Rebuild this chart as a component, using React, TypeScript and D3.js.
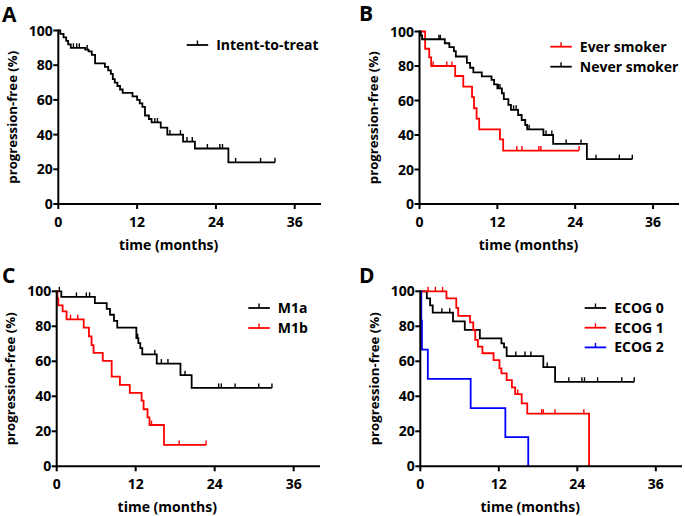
import React from 'react';
import * as d3 from 'd3';

const monthTicks = [0, 12, 24, 36];
const pctTicks = [0, 20, 40, 60, 80, 100];
const xTitle = 'time (months)';
const yTitle = 'progression-free (%)';

// Panel A: intent-to-treat
const aItt: [number, number][] = [[0.3,98],[0.8,96],[1.2,94],[1.5,92],[1.9,90],[4.1,89],[4.6,88],[5.1,86],[5.6,81],[7.1,79],[7.6,77],[8.0,75],[8.3,72],[8.6,70],[9.0,68],[9.4,66],[9.8,64],[11.3,62],[12.0,60],[12.4,58],[12.8,56],[13.2,51],[13.8,49],[14.2,47],[15.6,44],[16.6,40],[19.0,36],[20.8,32],[25.9,24]];
const aIttCensor = [2.3,2.8,3.2,4.4,14.7,15.1,17.0,18.6,19.6,20.4,22.7,24.6,25.0,27.0,30.8,33.0];

// Panel B: smoking
const bEver: [number, number][] = [[0.87,90],[1.5,85],[1.8,80],[5.5,74.2],[6.75,68],[8.1,62],[8.4,55.5],[8.8,49.5],[9.2,43.3],[12.4,37.5],[12.9,31]];
const bEverCensor = [2.1,4.2,5.0,15.0,15.8,18.4,18.7,24.6];
const bNever: [number, number][] = [[0.2,97.7],[0.4,95.5],[3.9,93.2],[4.6,90.9],[5.3,88.6],[5.6,85.5],[7.3,81.8],[7.8,79],[8.3,76.3],[9.6,74],[11.1,71.9],[11.5,69.3],[12.0,67],[12.7,64.2],[13.0,60.8],[13.7,57.5],[14.1,54.6],[15.2,51.6],[15.75,48.7],[16.3,45.8],[16.6,43.3],[19.1,40],[20.6,34.8],[25.8,26]];
const bNeverCensor = [3.0,3.2,12.15,12.4,14.5,14.9,16.9,19.5,20.4,22.6,24.9,27.2,30.8,32.8];

// Panel C: M stage
const cM1a: [number, number][] = [[0.7,96.8],[5.8,93.3],[7.6,90],[8.1,86.6],[8.7,83.1],[9.2,79.2],[12.1,73.2],[12.4,70.4],[12.7,67.5],[13.0,64],[15.2,58.7],[18.8,52.1],[20.5,44.8]];
const cM1aCensor = [0.4,3.0,4.5,5.0,12.3,14.9,15.9,16.9,19.5,24.6,25.0,27.1,30.7,32.7];
const cM1b: [number, number][] = [[0.1,96],[0.25,92],[0.9,88.5],[1.5,84],[4.1,79.2],[4.9,74.2],[5.3,69.2],[5.6,64.8],[7.0,60.3],[8.35,51.2],[9.6,46.5],[11.1,42],[12.9,37.5],[13.2,32.6],[13.8,28],[14.1,23.6],[16.3,12.2]];
const cM1bCensor = [2.1,3.2,14.4,18.6,22.7];

// Panel D: ECOG
const dEcog0: [number, number][] = [[1.0,96],[1.5,92],[1.9,87.8],[5.0,82.8],[6.8,78],[9.1,73.1],[12.4,70.3],[12.8,68],[13.2,63],[18.8,56.7],[20.6,48.3]];
const dEcog0Censor = [3.3,4.5,14.6,16.0,16.9,19.4,22.7,24.7,25.1,27.1,30.8,32.7];
const dEcog1: [number, number][] = [[4.0,96],[5.5,90.5],[5.8,86],[7.6,82.2],[8.1,77.8],[8.4,72.2],[8.8,68.4],[9.5,64.6],[11.2,60.7],[12.1,56],[12.4,53.1],[13.2,49.3],[14.0,45.1],[14.5,41.3],[15.5,36],[16.35,30.1],[25.8,0]];
const dEcog1Censor = [1.2,2.3,3.4,14.9,18.55,18.8,20.6,25.0];
const dEcog2: [number, number][] = [[0.15,83.3],[0.25,66.7],[1.15,50],[7.7,33.3],[13.0,16.7],[16.5,0]];
const dEcog2Censor: number[] = [];

const FONT = '"Open Sans", "Noto Sans", sans-serif';

type Series = { name: string; color: string; steps: [number, number][]; censor: number[] };
type Panel = {
  letter: string; lx: number; ly: number;
  x0: number; x1: number; yTop: number; yBot: number;
  series: Series[];
  legX: number; legY: number; legGap: number;
};

const panels: Panel[] = [
  { letter: 'A', lx: 2, ly: 21.5, x0: 58.3, x1: 321, yTop: 30.5, yBot: 204,
    series: [{ name: 'Intent-to-treat', color: '#000', steps: aItt, censor: aIttCensor }],
    legX: 186.7, legY: 45, legGap: 20 },
  { letter: 'B', lx: 359, ly: 21, x0: 419.5, x1: 679, yTop: 31.5, yBot: 204,
    series: [
      { name: 'Ever smoker', color: '#ff0000', steps: bEver, censor: bEverCensor },
      { name: 'Never smoker', color: '#000', steps: bNever, censor: bNeverCensor },
    ],
    legX: 550.3, legY: 46.7, legGap: 20 },
  { letter: 'C', lx: 2, ly: 283, x0: 56.7, x1: 320, yTop: 291.3, yBot: 466.3,
    series: [
      { name: 'M1a', color: '#000', steps: cM1a, censor: cM1aCensor },
      { name: 'M1b', color: '#ff0000', steps: cM1b, censor: cM1bCensor },
    ],
    legX: 248.3, legY: 308, legGap: 20 },
  { letter: 'D', lx: 359, ly: 283, x0: 420.3, x1: 682, yTop: 291.3, yBot: 466.3,
    series: [
      { name: 'ECOG 0', color: '#000', steps: dEcog0, censor: dEcog0Censor },
      { name: 'ECOG 1', color: '#ff0000', steps: dEcog1, censor: dEcog1Censor },
      { name: 'ECOG 2', color: '#0000ff', steps: dEcog2, censor: dEcog2Censor },
    ],
    legX: 584.7, legY: 308, legGap: 19.7 },
];

function levelAt(steps: [number, number][], t: number) {
  let lv = 100;
  for (const [st, l] of steps) { if (st <= t) lv = l; else break; }
  return lv;
}

function PanelView({ p }: { p: Panel }) {
  const x = d3.scaleLinear().domain([0, 40]).range([p.x0, p.x1]);
  const y = d3.scaleLinear().domain([0, 100]).range([p.yBot, p.yTop]);
  const line = d3.line<[number, number]>().x(d => x(d[0])).y(d => y(d[1])).curve(d3.curveStepAfter);
  const cy = (p.yTop + p.yBot) / 2;
  return (
    <g>
      <text x={p.lx} y={p.ly} fontSize={21} fontWeight="bold" fontFamily={FONT}>{p.letter}</text>
      {p.series.map((s, i) => {
        const last = s.steps[s.steps.length - 1];
        const endT = Math.max(last ? last[0] : 0, ...(s.censor.length ? s.censor : [0]));
        const pts: [number, number][] = [[0, 100], ...s.steps];
        if (endT > (last ? last[0] : 0)) pts.push([endT, last ? last[1] : 100]);
        return (
          <g key={i}>
            <path d={line(pts) || ''} fill="none" stroke={s.color} strokeWidth={1.8} />
            {s.censor.map((t, j) => {
              const l = levelAt(s.steps, t);
              return <line key={j} x1={x(t)} x2={x(t)} y1={y(l)} y2={y(l) - 4.5} stroke={s.color} strokeWidth={1.4} />;
            })}
          </g>
        );
      })}
      <line x1={p.x0} x2={p.x1} y1={p.yBot} y2={p.yBot} stroke="#000" strokeWidth={2} />
      <line x1={p.x0} x2={p.x0} y1={p.yTop - 1} y2={p.yBot + 1} stroke="#000" strokeWidth={2} />
      {monthTicks.map(t => (
        <g key={'x' + t}>
          <line x1={x(t)} x2={x(t)} y1={p.yBot} y2={p.yBot + 5} stroke="#000" strokeWidth={2} />
          <text x={x(t)} y={p.yBot + 22.5} textAnchor="middle" fontSize={14} fontWeight="bold" fontFamily={FONT}>{t}</text>
        </g>
      ))}
      {pctTicks.map(v => (
        <g key={'y' + v}>
          <line x1={p.x0 - 5} x2={p.x0} y1={y(v)} y2={y(v)} stroke="#000" strokeWidth={2} />
          <text x={p.x0 - 5.5} y={y(v)} dy="0.36em" textAnchor="end" fontSize={14} fontWeight="bold" fontFamily={FONT}>{v}</text>
        </g>
      ))}
      <text x={x(16.8)} y={p.yBot + 46} textAnchor="middle" fontSize={14} fontWeight="bold" fontFamily={FONT}>{xTitle}</text>
      <text transform={`translate(${p.x0 - 46},${cy}) rotate(-90)`} textAnchor="middle" dy="0.35em" fontSize={13.2} fontWeight="bold" fontFamily={FONT}>{yTitle}</text>
      {p.series.map((s, i) => {
        const ly = p.legY + i * p.legGap;
        return (
          <g key={'l' + i}>
            <line x1={p.legX} x2={p.legX + 21.5} y1={ly} y2={ly} stroke={s.color} strokeWidth={1.8} />
            <line x1={p.legX + 10.75} x2={p.legX + 10.75} y1={ly} y2={ly - 4.5} stroke={s.color} strokeWidth={1.4} />
            <text x={p.legX + 29.5} y={ly} dy="0.36em" fontSize={14} fontWeight="bold" fontFamily={FONT}>{s.name}</text>
          </g>
        );
      })}
    </g>
  );
}

export default function App() {
  return (
    <svg width={685} height={516} viewBox="0 0 685 516" style={{ position: 'absolute', left: 0, top: 0, background: '#fff' }}>
      <rect width={685} height={516} fill="#fff" />
      {panels.map(p => <PanelView key={p.letter} p={p} />)}
    </svg>
  );
}
